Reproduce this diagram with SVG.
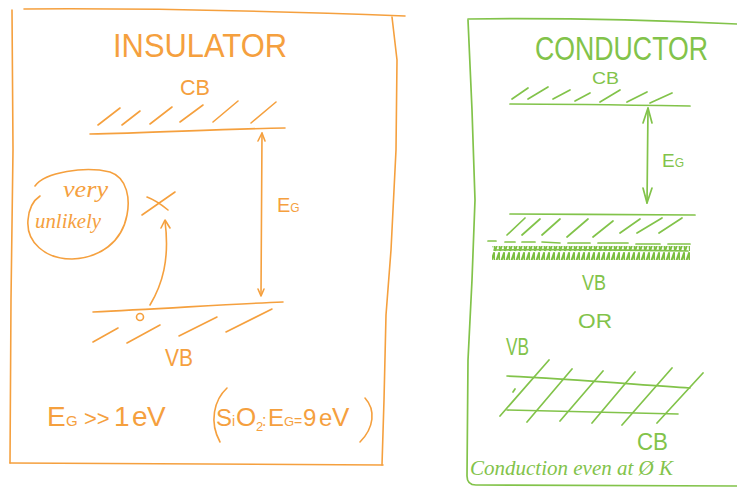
<svg xmlns="http://www.w3.org/2000/svg" width="737" height="487" viewBox="0 0 737 487">
<defs>
<style>
.o{stroke:#F5A03E;fill:none;stroke-width:1.6;stroke-linecap:round;stroke-linejoin:round}
.g{stroke:#82C34A;fill:none;stroke-width:1.7;stroke-linecap:round;stroke-linejoin:round}
.ot{fill:#F5A03E;font-family:"Liberation Sans",Arial,sans-serif}
.gt{fill:#82C34A;font-family:"Liberation Sans",Arial,sans-serif}
.hand{font-family:"Liberation Serif","Times New Roman",serif;font-style:italic}
</style>
<pattern id="scrib" width="5" height="14" patternUnits="userSpaceOnUse">
<path d="M0,13 L4,1 L5,13" fill="none" stroke="#7CBF40" stroke-width="2" stroke-linejoin="round"/>
</pattern>
</defs>
<rect width="737" height="487" fill="#ffffff"/>

<g id="insulator-frame">
<path class="o" d="M24,9 C150,8 300,12 405,16"/>
<path class="o" d="M12,10 L13,150 L11,300 L10,463"/>
<path class="o" d="M10,463 L383,465"/>
<path class="o" d="M392,17 L397,60 L396,150 L391,250 L386,315 L384,400 L382,465"/>
<text class="ot" x="113" y="57" font-size="33" textLength="174" lengthAdjust="spacingAndGlyphs">INSULATOR</text>
</g>

<g id="insulator-cb">
<text class="ot" x="180" y="95" font-size="22" textLength="30" lengthAdjust="spacingAndGlyphs">CB</text>
<path class="o" d="M98,125 L120,108 M122,125 L140,111 M150,124 L172,107 M180,122 L203,105 M213,122 L238,101 M251,123 L276,102"/>
<path class="o" d="M90,134 C150,133 220,129 285,128"/>
</g>

<g id="insulator-vb">
<path class="o" d="M93,312 C160,309 230,304 283,302"/>
<circle class="o" cx="140" cy="317" r="3.5"/>
<path class="o" d="M93,342 L118,328 M127,343 L160,325 M179,336 L217,317 M226,332 L272,309"/>
<text class="ot" x="165" y="366" font-size="23" textLength="28" lengthAdjust="spacingAndGlyphs">VB</text>
</g>

<g id="insulator-gap">
<text class="ot" x="277" y="212" font-size="20">E<tspan font-size="12">G</tspan></text>
</g>

<g id="unlikely-note">
<path class="o" d="M35,186 C45,172 85,166 110,172 C128,178 130,200 127,215 C122,242 100,258 72,259 C45,259 26,242 28,220 C29,207 34,200 40,196"/>
<text class="ot hand" x="63" y="197" font-size="24" textLength="45" lengthAdjust="spacingAndGlyphs">very</text>
<text class="ot hand" x="35" y="228" font-size="22" textLength="66" lengthAdjust="spacingAndGlyphs">unlikely</text>
</g>

<g id="forbidden-state">
<path class="o" d="M142,215 L175,192 M147,197 C155,200 162,205 168,210"/>
</g>

<g id="insulator-formula">
<text class="ot" y="426" font-size="28"><tspan x="47">E</tspan><tspan x="66" font-size="15">G</tspan><tspan x="84" font-size="22">&gt;&gt;</tspan><tspan x="114">1</tspan><tspan x="132">e</tspan><tspan x="147">V</tspan></text>
<path class="o" d="M227,388 C214,400 209,422 220,442"/>
<path class="o" d="M365,398 C376,410 374,428 360,442"/>
<text class="ot" y="426" font-size="24"><tspan x="216">S</tspan><tspan x="232" font-size="14">i</tspan><tspan x="236" font-size="26">O</tspan><tspan x="256" font-size="13" dy="5">2</tspan><tspan x="262" dy="-5" font-size="16">:</tspan><tspan x="268">E</tspan><tspan x="284" font-size="13">G</tspan><tspan x="294" font-size="14">=</tspan><tspan x="303">9</tspan><tspan x="319">e</tspan><tspan x="332" font-size="26">V</tspan></text>
</g>

<g id="conductor-frame">
<path class="g" d="M468,19 C550,18 650,20 737,24"/>
<path class="g" d="M468,20 L472,110 L475,200 L472,280 L468,360 L467,476 Q467,485 476,485 L737,486"/>
<text class="gt" transform="translate(535,60) scale(1,1.2)" x="0" y="0" font-size="27" textLength="173" lengthAdjust="spacingAndGlyphs">CONDUCTOR</text>
</g>

<g id="conductor-cb">
<text class="gt" x="592" y="84" font-size="16" textLength="27" lengthAdjust="spacingAndGlyphs">CB</text>
<path class="g" d="M512,99 L528,88 M528,99 L548,87 M553,99 L570,90 M575,101 L590,93 M600,102 L620,90 M627,102 L647,92 M650,103 L672,93"/>
<path class="g" d="M510,104 C570,104 630,105 690,106"/>
</g>

<g id="conductor-vb">
<path class="g" d="M510,214 C570,214 640,215 695,215"/>
<path class="g" d="M507,235 L525,218 M522,235 L540,219 M542,235 L560,219 M567,237 L588,219 M593,237 L613,221 M620,233 L640,219 M637,233 L662,218 M659,233 L682,218"/>
<path class="g" d="M488,241 L496,241 M505,242 L515,242 M522,242 L535,242 M542,242 L560,243 M568,243 L590,243 M598,243 L628,243 M636,244 L660,244 M668,244 L690,244"/>
<rect x="492" y="246" width="198" height="14" fill="url(#scrib)"/>
<path class="g" d="M494,250 C550,249 620,250 688,251"/>
<text class="gt" x="582" y="290" font-size="22" textLength="24" lengthAdjust="spacingAndGlyphs">VB</text>
</g>

<g id="or-label">
<text class="gt" x="578" y="328" font-size="20" textLength="34" lengthAdjust="spacingAndGlyphs">OR</text>
</g>

<g id="overlap-bands">
<text class="gt" x="506" y="355" font-size="23" textLength="23" lengthAdjust="spacingAndGlyphs">VB</text>
<path class="g" d="M507,376 C570,379 630,384 690,388"/>
<path class="g" d="M507,410 C570,411 630,413 678,414"/>
<path class="g" d="M500,416 L549,360 M527,422 L572,369 M560,421 L603,371 M592,423 L635,372 M622,425 L672,368 M657,423 L703,373 M513,392 L515,389"/>
<text class="gt" x="637" y="450" font-size="24" textLength="31" lengthAdjust="spacingAndGlyphs">CB</text>
<text class="gt hand" x="470" y="475" font-size="21" textLength="203" lengthAdjust="spacingAndGlyphs">Conduction even at Ø K</text>
</g>

<g id="connectors">
<path class="o" d="M262,133 L261,295"/>
<path class="o" d="M258,141 L262,133 L265,141"/>
<path class="o" d="M258,289 L261,296 L264,289"/>
<path class="o" d="M150,305 C162,285 170,260 165,221"/>
<path class="o" d="M161,228 L165,220 L170,228"/>
<path class="g" d="M648,108 L647,203"/>
<path class="g" d="M643,123 L648,108 L652,123"/>
<path class="g" d="M643,188 L647,203 L652,188"/>
<text class="gt" x="662" y="167" font-size="19">E<tspan font-size="12">G</tspan></text>
</g>
</svg>
